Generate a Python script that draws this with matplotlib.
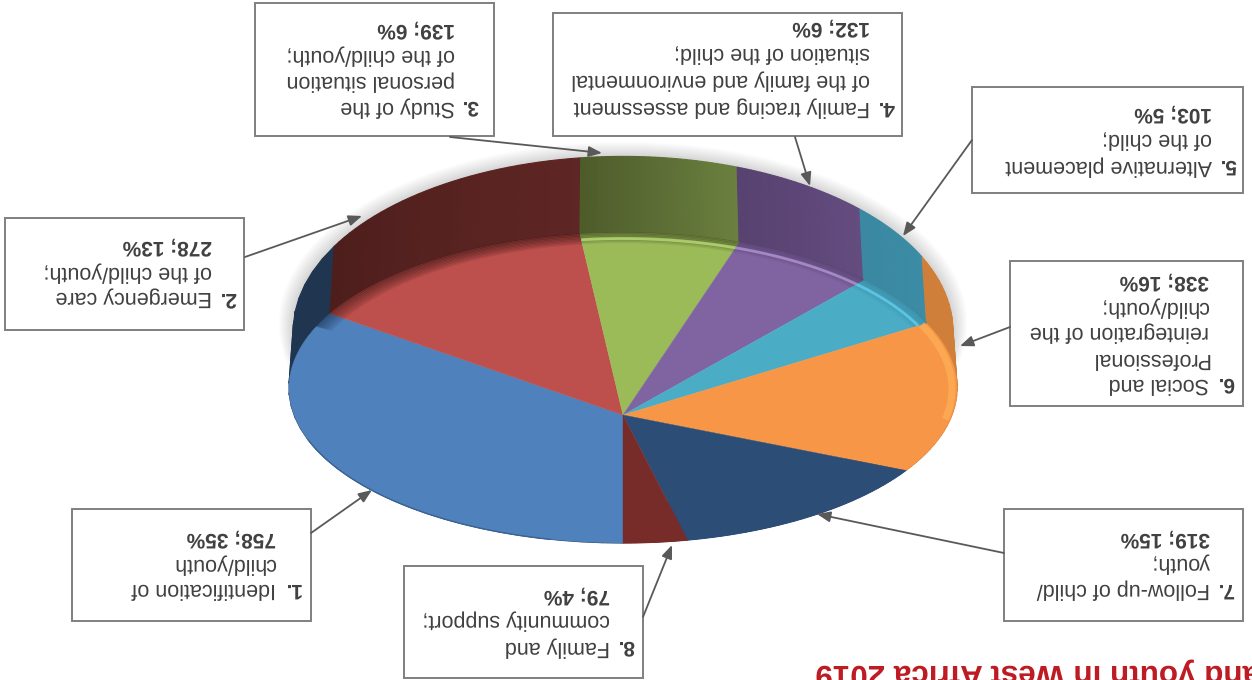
import numpy as np
import matplotlib
matplotlib.use('Agg')
from matplotlib import pyplot as plt
from matplotlib.colors import to_rgb
from matplotlib.patches import Polygon, Rectangle

plt.rcParams['font.family'] = ['Liberation Sans', 'DejaVu Sans']
plt.rcParams['text.hinting'] = 'no_hinting'

# data
numbers = ['1.', '2.', '3.', '4.', '5.', '6.', '7.', '8.']
first_lines = ['Identification of', 'Emergency care', 'Study of the',
               'Family tracing and assessment', 'Alternative placement',
               'Social and', 'Follow-up of child/', 'Family and']
other_lines = [['child/youth'], ['of the child/youth;'],
               ['personal situation', 'of the child/youth;'],
               ['of the family and environmental', 'situation of the child;'],
               ['of the child;'],
               ['Professional', 'reintegration of the', 'child/youth;'],
               ['youth;'], ['community support;']]
values = [758, 278, 139, 132, 103, 338, 319, 79]
percents = [35, 13, 6, 6, 5, 16, 15, 4]
title = 'and youth in West Africa 2019'

# colours
face_colors = ['#4F81BD', '#BD4F4C', '#9BBB59', '#8064A2', '#4BACC6', '#F79646', '#2C4D75', '#772C2A']
wall_start = ['#1F3550', '#5E2624', '#6B8040', '#644C80', '#3C8CA6', '#D07F3A', '#2C4D75', '#772C2A']
wall_end = ['#1F3550', '#4D1E1C', '#4E5C2A', '#574270', '#3A88A2', '#D07F3A', '#2C4D75', '#772C2A']
rim_colors = [None, None, '#BEE07A', '#B79AD8', '#62D3F2', '#FFAD55', None, None]

# layout in pixels: box x0, y0, x1, y1
boxes = [(72, 509, 311, 621), (5, 218, 244, 330), (255, 3, 494, 136), (553, 13, 902, 136),
         (972, 87, 1243, 193), (1010, 261, 1243, 406), (1004, 509, 1243, 621), (404, 566, 643, 678)]
arrows = [((311, 533), (372, 490)), ((245, 257), (362, 216)), ((450, 137), (602, 153)),
          ((795, 137), (810, 186)), ((972, 140), (903, 236)), ((1010, 327), (960, 346)),
          ((1004, 553), (817, 514)), ((643, 617), (672, 545))]
number_x = [301, 236, 479, 895, 1236, 1234, 1234, 634]
text_x = [276, 212, 455, 870, 1212, 1209, 1210, 610]
line_y = [[588, 563, 538], [297, 271, 246], [106, 80, 54, 29], [106, 79, 53, 27],
          [165, 138, 113], [383, 358, 331, 306, 281], [588, 562, 538], [646, 619, 595]]


# perspective view of a circle: theta runs from the bottom of the picture through the right
def ring(theta, r=1.0, cy=415, a=329, b=150.3, k=0.174):
    u = r * np.sin(np.radians(theta))
    v = -r * np.cos(np.radians(theta))
    d = 1 - k * v
    return 623 + a * u / d, cy - b * v / d


def lower_ring(theta, r=1.0):
    return ring(theta, r, cy=360, a=325, b=169, k=0.17)


fig = plt.figure(figsize=(12.52, 6.8), dpi=100)
ax = fig.add_axes([0, 0, 1, 1])
ax.set_xlim(0, 1252)
ax.set_ylim(680, 0)
ax.axis('off')

# angles of the slices, slice 1 ends at the bottom of the pie
total = sum(values)
ends = 360 - np.cumsum([0] + values[:-1]) / total * 360
starts = ends - np.array(values) / total * 360

# soft shadow behind the pie
all_t = np.linspace(0, 360, 361)
for i in range(14, 0, -1):
    x, y = lower_ring(all_t, 1 + i * 0.0030)
    ax.add_patch(Polygon(np.column_stack([x, y - i * 0.3]), fc='#404040', ec='none', alpha=0.014, zorder=1))
x, y = ring(all_t)
ax.add_patch(Polygon(np.column_stack([x, y]), fc='white', ec='none', zorder=1.5))

# side wall, cut in thin strips for the shading
for i in range(len(values)):
    t = np.linspace(starts[i], ends[i], 31)
    c0, c1 = np.array(to_rgb(wall_start[i])), np.array(to_rgb(wall_end[i]))
    for j in range(30):
        x0, y0 = ring(t[j:j + 2])
        x1, y1 = lower_ring(t[j:j + 2])
        col = c0 + (c1 - c0) * j / 29
        pts = np.column_stack([np.r_[x0, x1[::-1]], np.r_[y0, y1[::-1]]])
        ax.add_patch(Polygon(pts, fc=col, ec=col, lw=0.8, zorder=2))

# top face
for i in range(len(values)):
    t = np.linspace(starts[i], ends[i], 80)
    x, y = ring(t)
    pts = np.column_stack([np.r_[623, x], np.r_[415, y]])
    ax.add_patch(Polygon(pts, fc=face_colors[i], ec=face_colors[i], lw=0.3, zorder=3))

# edge of the face: soft dark band from the wall, light rim on some slices
for i in range(len(values)):
    t = np.linspace(starts[i], ends[i], 80)
    lo = ring(t)[1] < (328 if i == 0 else 345)
    if wall_start[i] not in ('#2C4D75', '#772C2A') and i != 5:
        for j in range(8):
            x, y = ring(t[lo], 1 - j * 0.006)
            ax.plot(x, y, color=wall_end[i], lw=1.6, alpha=0.6 - j * 0.07, zorder=4, solid_capstyle='butt')
    if rim_colors[i]:
        keep = ring(t)[1] < 420
        x, y = ring(t[keep], 0.975 if i != 5 else 0.985)
        ax.plot(x, y, color=rim_colors[i], lw=2.0 if i != 5 else 5, alpha=0.75, zorder=5, solid_capstyle='butt')
t = np.linspace(280, 345, 60)
x, y = ring(t)
ax.plot(x, y, color='#3A6391', lw=1.0, zorder=5)

# label boxes, text is upside down like the source picture
for i in range(len(values)):
    x0, y0, x1, y1 = boxes[i]
    ax.add_patch(Rectangle((x0, y0), x1 - x0, y1 - y0, fc='white', ec='#7F7F7F', lw=1.4, zorder=6))
    ax.annotate('', xy=arrows[i][1], xytext=arrows[i][0], zorder=7,
                arrowprops=dict(arrowstyle='-|>,head_length=0.8,head_width=0.32', color='#595959', lw=1.3,
                                shrinkA=0, shrinkB=0))
    ax.text(number_x[i], line_y[i][0], numbers[i], rotation=180, ha='right', va='center',
            fontsize=15, fontweight='bold', color='#404040', zorder=8)
    ax.text(text_x[i], line_y[i][0], first_lines[i], rotation=180, ha='right', va='center',
            fontsize=15.5, color='#404040', zorder=8)
    for j, line in enumerate(other_lines[i]):
        ax.text(text_x[i], line_y[i][j + 1], line, rotation=180, ha='right', va='center',
                fontsize=15.5, color='#404040', zorder=8)
    ax.text(text_x[i], line_y[i][-1], '%d; %d%%' % (values[i], percents[i]), rotation=180, ha='right', va='center',
            fontsize=15, fontweight='bold', color='#404040', zorder=8)

# title cut by the edge of the picture
ax.text(815, 664, title, rotation=180, rotation_mode='anchor', ha='right', va='baseline',
        fontsize=22.6, fontweight='bold', color='#BE1A22', zorder=8)

fig.savefig('out.png', dpi=100)
